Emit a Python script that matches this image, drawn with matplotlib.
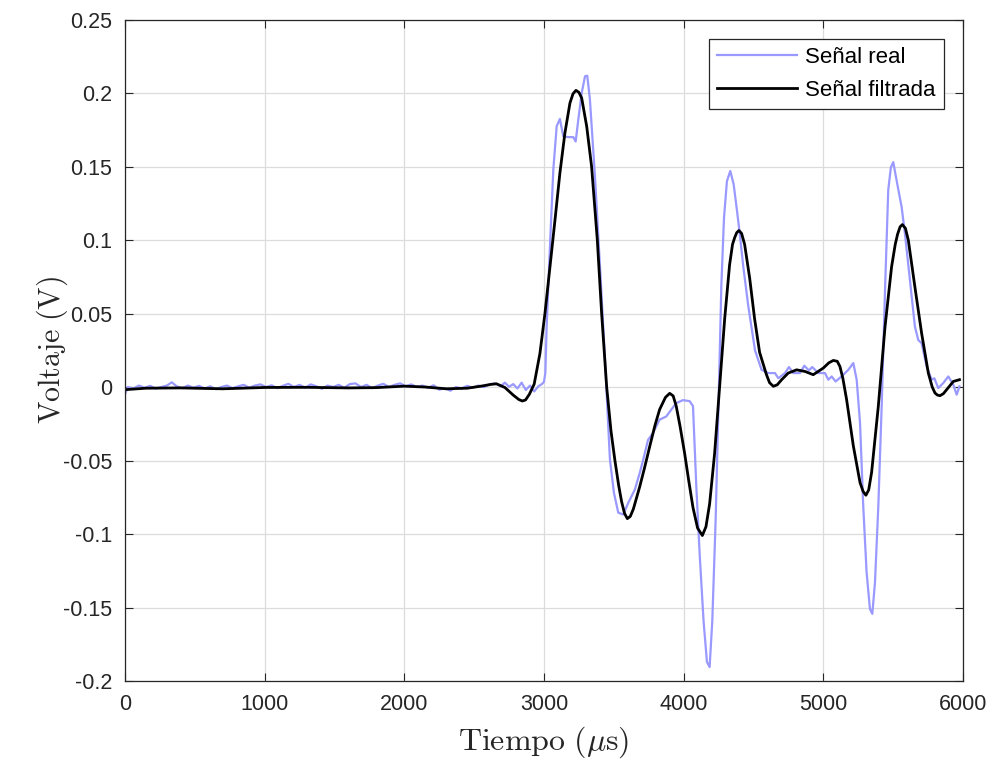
import matplotlib
matplotlib.use("Agg")
import matplotlib.pyplot as plt

plt.rcParams['font.family'] = ['Liberation Sans', 'DejaVu Sans']
plt.rcParams['mathtext.fontset'] = 'cm'

# señal real (muestras)
real_t = [0, 20, 60, 100, 140, 180, 220, 260, 300, 335, 370, 410, 450, 490,
          530, 570, 610, 650, 690, 730, 770, 810, 850, 890, 930, 970, 1010,
          1050, 1090, 1130, 1170, 1210, 1250, 1290, 1330, 1370, 1410, 1450,
          1490, 1530, 1570, 1610, 1650, 1690, 1730, 1770, 1810, 1850, 1890,
          1930, 1970, 2010, 2050, 2090, 2130, 2170, 2210, 2250, 2290, 2330,
          2370, 2410, 2450, 2490, 2530, 2570, 2610, 2650, 2690, 2720, 2750,
          2780, 2810, 2840, 2870, 2900, 2930, 2960, 2985, 3000, 3010, 3019,
          3043, 3067, 3091, 3114, 3138, 3174, 3210, 3227, 3246, 3270, 3294,
          3310, 3329, 3365, 3401, 3437, 3472, 3501, 3532, 3568, 3604, 3651,
          3687, 3709, 3745, 3780, 3828, 3876, 3912, 3947, 3995, 4043, 4067,
          4091, 4115, 4143, 4167, 4186, 4205, 4229, 4253, 4270, 4289, 4310,
          4334, 4358, 4382, 4401, 4427, 4463, 4511, 4558, 4606, 4654, 4678,
          4726, 4754, 4785, 4833, 4864, 4897, 4921, 4964, 5012, 5036, 5060,
          5088, 5131, 5179, 5215, 5239, 5263, 5286, 5310, 5334, 5351, 5370,
          5394, 5418, 5442, 5465, 5484, 5501, 5525, 5561, 5585, 5620, 5656,
          5680, 5704, 5740, 5776, 5795, 5823, 5859, 5895, 5931, 5955, 5975]
real_v = [-0.005, 0.0, -0.001, 0.001, -0.0005, 0.0008, -0.001, 0.0, 0.001,
          0.0032, 0.0005, -0.0008, 0.001, -0.0005, 0.0008, -0.001, 0.0005,
          -0.0015, 0.0, 0.001, -0.0008, 0.0005, 0.0015, -0.0005, 0.001,
          0.0018, 0.0, 0.0012, -0.0008, 0.0008, 0.0022, 0.0, 0.0015, -0.0005,
          0.0018, 0.0005, -0.0012, 0.001, 0.0, 0.0015, -0.0005, 0.002, 0.0025,
          0.0, 0.0015, -0.0008, 0.001, 0.0022, 0.0, 0.0015, 0.0025, 0.0005,
          0.0018, 0.0, 0.001, -0.0005, 0.0012, -0.0018, -0.0008, -0.0025,
          0.0, -0.001, 0.0008, -0.0005, 0.001, 0.0, 0.0018, 0.0025, 0.0005,
          0.003, 0.0002, 0.002, -0.001, 0.003, -0.002, 0.001, -0.003, 0.0005,
          0.002, 0.0035, 0.0096, 0.041, 0.0958, 0.148, 0.1774, 0.1824, 0.1706,
          0.170, 0.170, 0.167, 0.182, 0.200, 0.2114, 0.2118, 0.1956, 0.1434,
          0.0822, 0.0187, -0.049, -0.072, -0.0855, -0.0867, -0.0787, -0.0697,
          -0.058, -0.05, -0.036, -0.0314, -0.0222, -0.020, -0.0153, -0.011,
          -0.0089, -0.0096, -0.013, -0.068, -0.114, -0.1596, -0.187, -0.1905,
          -0.1596, -0.091, 0.0007, 0.069, 0.115, 0.140, 0.147, 0.138, 0.120,
          0.105, 0.082, 0.055, 0.025, 0.0117, 0.0095, 0.0095, 0.006, 0.0095,
          0.0136, 0.0095, 0.0095, 0.0145, 0.0113, 0.0136, 0.0095, 0.0095,
          0.005, 0.0072, 0.0038, 0.0072, 0.0117, 0.0163, 0.005, -0.0244,
          -0.081, -0.126, -0.151, -0.1543, -0.133, -0.081, -0.013, 0.066,
          0.134, 0.1495, 0.153, 0.1405, 0.1224, 0.104, 0.0727, 0.0411, 0.032,
          0.0298, 0.014, 0.005, 0.006, -0.0007, 0.0027, 0.0072, 0.0016,
          -0.0052, 0.0005]

# señal filtrada
filt_t = [0, 150, 400, 700, 1000, 1300, 1600, 1800, 2000, 2150, 2300, 2450,
          2550, 2620, 2660, 2720, 2780, 2820, 2845, 2868, 2895, 2930, 2971,
          3007, 3043, 3079, 3114, 3150, 3186, 3208, 3229, 3250, 3270, 3306,
          3341, 3382, 3413, 3449, 3480, 3508, 3535, 3556, 3577, 3597, 3618,
          3640, 3685, 3720, 3757, 3795, 3828, 3870, 3900, 3925, 3947, 3975,
          4007, 4037, 4067, 4100, 4134, 4160, 4186, 4222, 4258, 4294, 4329,
          4350, 4365, 4380, 4396, 4415, 4437, 4473, 4508, 4544, 4592, 4615,
          4642, 4670, 4702, 4749, 4809, 4869, 4928, 5000, 5040, 5072, 5100,
          5119, 5140, 5167, 5215, 5263, 5285, 5305, 5325, 5346, 5394, 5442,
          5489, 5515, 5532, 5550, 5566, 5588, 5609, 5656, 5704, 5752, 5780,
          5800, 5818, 5835, 5860, 5883, 5931, 5975]
filt_v = [-0.0018, -0.0008, -0.0006, -0.0012, -0.0003, -0.0002, -0.0006,
          -0.0004, 0.0006, 0.0, -0.0012, -0.0008, 0.0006, 0.0018, 0.0022,
          -0.0003, -0.0055, -0.0085, -0.0095, -0.0088, -0.005, 0.002,
          0.0228, 0.05, 0.0818, 0.1137, 0.1455, 0.1728, 0.1932, 0.1995,
          0.2018, 0.2005, 0.1966, 0.1773, 0.15, 0.1, 0.05, 0.0, -0.03, -0.05,
          -0.067, -0.078, -0.086, -0.0895, -0.088, -0.083, -0.068, -0.055,
          -0.0405, -0.026, -0.0153, -0.007, -0.0043, -0.006, -0.013, -0.027,
          -0.045, -0.064, -0.082, -0.096, -0.101, -0.095, -0.0795, -0.045,
          0.0007, 0.0465, 0.0831, 0.097, 0.1015, 0.105, 0.1065, 0.1045,
          0.0969, 0.074, 0.0465, 0.0236, 0.0087, 0.003, 0.0005, 0.0015,
          0.005, 0.0095, 0.0117, 0.0106, 0.0084, 0.0129, 0.0165, 0.0181,
          0.0175, 0.014, 0.006, -0.0086, -0.040, -0.065, -0.071, -0.0736,
          -0.070, -0.058, -0.013, 0.041, 0.0818, 0.097, 0.104, 0.109, 0.1105,
          0.108, 0.0998, 0.068, 0.0366, 0.0095, 0.0, -0.0041, -0.0055,
          -0.0059, -0.0045, -0.0018, 0.0038, 0.005]

x_ticks = [0, 1000, 2000, 3000, 4000, 5000, 6000]
y_ticks = [-0.2, -0.15, -0.1, -0.05, 0, 0.05, 0.1, 0.15, 0.2, 0.25]
y_labels = ['-0.2', '-0.15', '-0.1', '-0.05', '0', '0.05', '0.1', '0.15',
            '0.2', '0.25']

fig = plt.figure(figsize=(9.95, 7.6), dpi=100)
ax = fig.add_axes([0.1256, 0.1039, 0.8422, 0.8704])

ax.plot(real_t, real_v, color=(0.6, 0.6, 1.0), lw=1.6, label='Señal real')
ax.plot(filt_t, filt_v, color='black', lw=2.0, label='Señal filtrada')

ax.set_xlim(0, 6000)
ax.set_ylim(-0.2, 0.25)
ax.set_xticks(x_ticks)
ax.set_yticks(y_ticks)
ax.set_yticklabels(y_labels)
ax.grid(True, color='#dcdcdc', lw=0.9)
ax.set_axisbelow(True)
ax.tick_params(direction='in', top=True, right=True, length=6,
               labelsize=15.5, colors='#262626', pad=9)
for s in ax.spines.values():
    s.set_color('#262626')
    s.set_linewidth(0.9)

ax.set_xlabel(r'$\mathrm{Tiempo}\ (\mu\mathrm{s})$', fontsize=23,
              color='#262626', labelpad=7)
ax.set_ylabel(r'$\mathrm{Voltaje}\ (\mathrm{V})$', fontsize=21.5,
              color='#262626', labelpad=-5)

leg = ax.legend(loc='upper right', bbox_to_anchor=(0.9773, 0.9705),
                borderaxespad=0, fontsize=16, handlelength=3.6,
                handletextpad=0.4, labelspacing=0.54, fancybox=False,
                framealpha=1, edgecolor='#262626', borderpad=0.36)
leg.get_frame().set_linewidth(0.9)

fig.savefig('out.png', dpi=100)
